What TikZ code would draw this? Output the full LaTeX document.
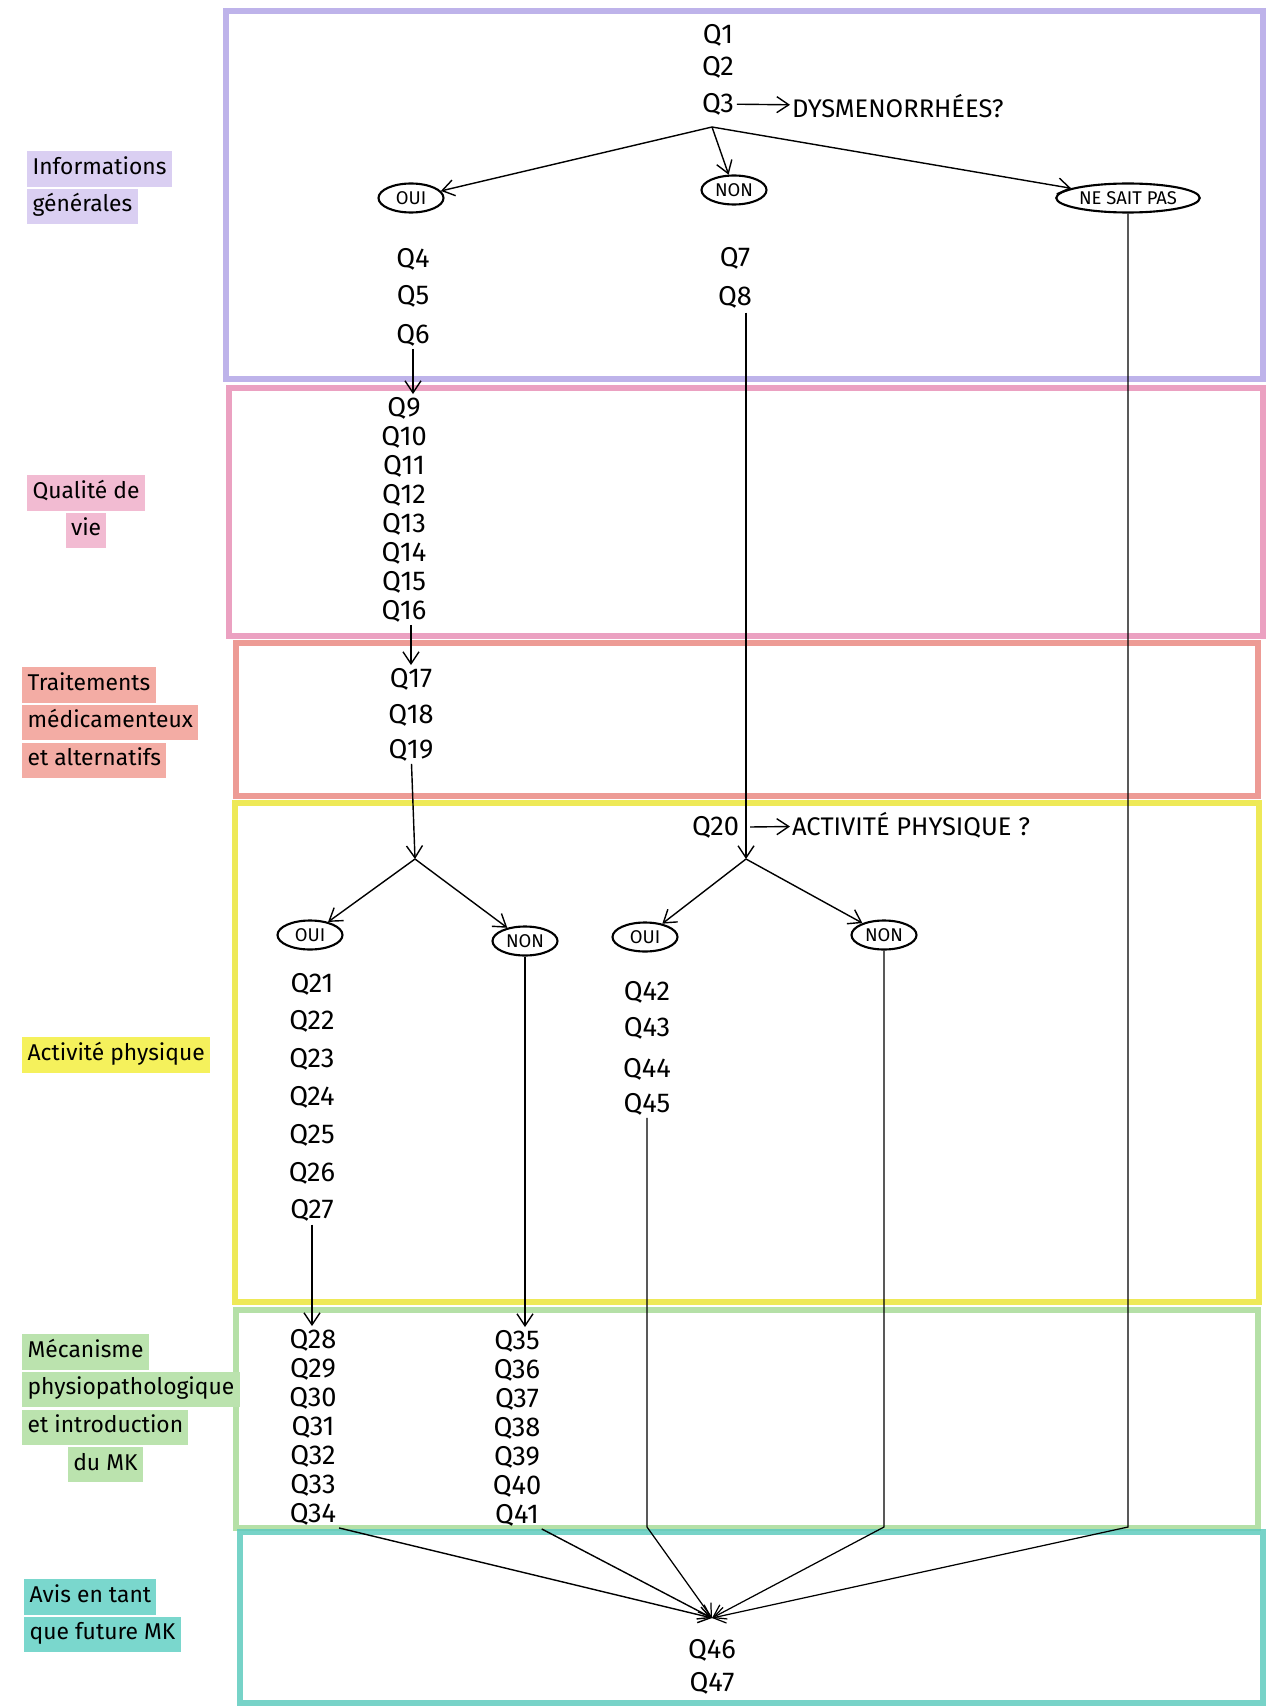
\documentclass[tikz,border=0pt]{standalone}
\usepackage{fontspec}
\setmainfont{Fira Sans}
\usepackage{tikz}
\usetikzlibrary{arrows.meta, positioning, shapes.geometric, backgrounds}
\definecolor{mauve}{HTML}{B3A6E6}
\definecolor{rose}{HTML}{E890B6}
\definecolor{saumon}{HTML}{EA8A82}
\definecolor{jaune}{HTML}{EBE53A}
\definecolor{vert}{HTML}{A8DA98}
\definecolor{turquoise}{HTML}{5FCBBE}
\definecolor{mauveclair}{HTML}{DACFF2}
\definecolor{roseclair}{HTML}{F2BBD2}
\definecolor{saumonclair}{HTML}{F3ACA4}
\definecolor{jauneclair}{HTML}{F5F15C}
\definecolor{vertclair}{HTML}{BBE3AE}
\definecolor{turquoiseclair}{HTML}{7AD7CD}
\tikzset{
  bande/.style={draw=#1, line width=3pt, opacity=.85},
  surligne/.style={fill=#1, font=\fontsize{13}{15}\selectfont,
    inner xsep=3pt, inner ysep=4pt, text height=9pt, text depth=3pt},
  question/.style={font=\fontsize{15.5}{17}\selectfont, inner sep=1.5pt},
  majuscules/.style={font=\fontsize{14.5}{16}\selectfont, inner sep=1pt},
  reponse/.style={ellipse, draw, line width=1.2pt,
    font=\fontsize{10.5}{12}\selectfont, inner xsep=1pt, inner ysep=1pt,
    minimum width=1.3cm, minimum height=0.58cm},
  fleche/.style={-{Straight Barb[length=2.4mm, width=3.2mm]}, line width=0.8pt},
  trait/.style={line width=0.7pt}
}

\begin{document}
\begin{tikzpicture}[x=0.02cm, y=-0.02cm]
  \useasboundingbox (0,0) rectangle (1266,1706);

  % rubriques a gauche
  \node[surligne=mauveclair, anchor=west] (info1) at (27,169) {Informations};
  \node[surligne=mauveclair, below=1pt of info1.south west, anchor=north west] (info2) {générales};
  \node[surligne=roseclair, anchor=west] (qdv1) at (27,493) {Qualité de};
  \node[surligne=roseclair, below=1pt of qdv1] (qdv2) {vie};
  \node[surligne=saumonclair, anchor=west] (trait1) at (22,685) {Traitements};
  \node[surligne=saumonclair, below=1pt of trait1.south west, anchor=north west] (trait2) {médicamenteux};
  \node[surligne=saumonclair, below=1pt of trait2.south west, anchor=north west] (trait3) {et alternatifs};
  \node[surligne=jauneclair, anchor=west] (act1) at (22,1055) {Activité physique};
  \node[surligne=vertclair, anchor=west] (meca1) at (22,1352) {Mécanisme};
  \node[surligne=vertclair, below=1pt of meca1.south west, anchor=north west] (meca2) {physiopathologique};
  \node[surligne=vertclair, below=1pt of meca2.south west, anchor=north west] (meca3) {et introduction};
  \node[surligne=vertclair, below=1pt of meca3] (meca4) {du MK};
  \node[surligne=turquoiseclair, anchor=west] (avis1) at (24,1597) {Avis en tant};
  \node[surligne=turquoiseclair, below=1pt of avis1.south west, anchor=north west] (avis2) {que future MK};

  % questions
  \node[question] (q1) at (718,35) {Q1};
  \node[question] (q2) at (718,67) {Q2};
  \node[question] (q3) at (718,104) {Q3};
  \node[majuscules, anchor=west] (dys) at (790,106) {DYSMENORRHÉES?};
  \coordinate (b0) at (712,127);
  \node[reponse] (oui1) at (411,198) {OUI};
  \node[reponse] (non1) at (734,190) {NON};
  \node[reponse] (nsp) at (1128,198) {NE SAIT PAS};
  \foreach \n/\y in {4/259, 5/296, 6/335}
    \node[question] (q\n) at (413,\y) {Q\n};
  \foreach \n/\y in {7/258, 8/297}
    \node[question] (q\n) at (735,\y) {Q\n};
  \foreach \n in {9,...,16}
    \node[question] (q\n) at (404,{408+29*(\n-9)}) {Q\n};
  \foreach \n/\y in {17/679, 18/715, 19/750}
    \node[question] (q\n) at (411,\y) {Q\n};

  \node[question, anchor=east] (q20) at (742,827) {Q20};
  \node[majuscules, anchor=west] (actq) at (790,825) {ACTIVITÉ PHYSIQUE ?};
  \coordinate (b1) at (415,859);
  \coordinate (b2) at (746,859);
  \node[reponse] (oui2) at (310,935) {OUI};
  \node[reponse] (non2) at (525,941) {NON};
  \node[reponse] (oui3) at (645,937) {OUI};
  \node[reponse] (non3) at (884,935) {NON};
  \foreach \n in {21,...,27}
    \node[question] (q\n) at (312,{984+37.8*(\n-21)}) {Q\n};
  \foreach \n/\y in {42/992, 43/1028, 44/1069, 45/1104}
    \node[question] (q\n) at (647,\y) {Q\n};
  \foreach \n in {28,...,34}
    \node[question] (q\n) at (313,{1340+29*(\n-28)}) {Q\n};
  \foreach \n in {35,...,41}
    \node[question] (q\n) at (517,{1341+29*(\n-35)}) {Q\n};

  \coordinate (kx) at (712,1527);
  \coordinate (c) at (712,1618);
  \node[question] (q46) at (712,1650) {Q46};
  \node[question] (q47) at (712,1683) {Q47};

  % liaisons
  \draw[fleche] (q3) -- (dys);
  \draw[fleche] (b0) -- (oui1);
  \draw[fleche] (b0) -- (non1);
  \draw[fleche] (b0) -- (nsp);
  \draw[fleche] (q6) -- (q6 |- q9.north);
  \draw[fleche] (q16.south -| q17) -- (q17);
  \draw[fleche] (q19) -- (b1);
  \draw[fleche] (b1) -- (oui2);
  \draw[fleche] (b1) -- (non2);
  \draw[fleche, shorten <=1pt] (q8.south -| b2) -- (b2);
  \draw[fleche] (q20.east) ++(8,0) -- (actq);
  \draw[fleche] (b2) -- (oui3);
  \draw[fleche] (b2) -- (non3);
  \draw[fleche] (q27) -- (q27 |- q28.north);
  \draw[fleche] (non2) -- (non2 |- q35.north);

  \draw[fleche] (q34.south east) -- (c);
  \draw[fleche] (q41.south east) -- (c);
  \draw[fleche, trait] (q45) -- (q45 |- kx) -- (c);
  \draw[fleche, trait] (non3) -- (non3 |- kx) -- (c);
  \draw[fleche, trait] (nsp) -- (nsp |- kx) -- (c);

  \begin{scope}[on background layer]
    \draw[bande=mauve] (226,11) rectangle (1263,379);
    \draw[bande=rose] (229,388) rectangle (1263,636);
    \draw[bande=saumon] (236,643) rectangle (1258,796);
    \draw[bande=jaune] (235,803) rectangle (1259,1302);
    \draw[bande=vert] (236,1310) rectangle (1258,1528);
    \draw[bande=turquoise] (240,1532) rectangle (1263,1703);
  \end{scope}
\end{tikzpicture}
\end{document}
